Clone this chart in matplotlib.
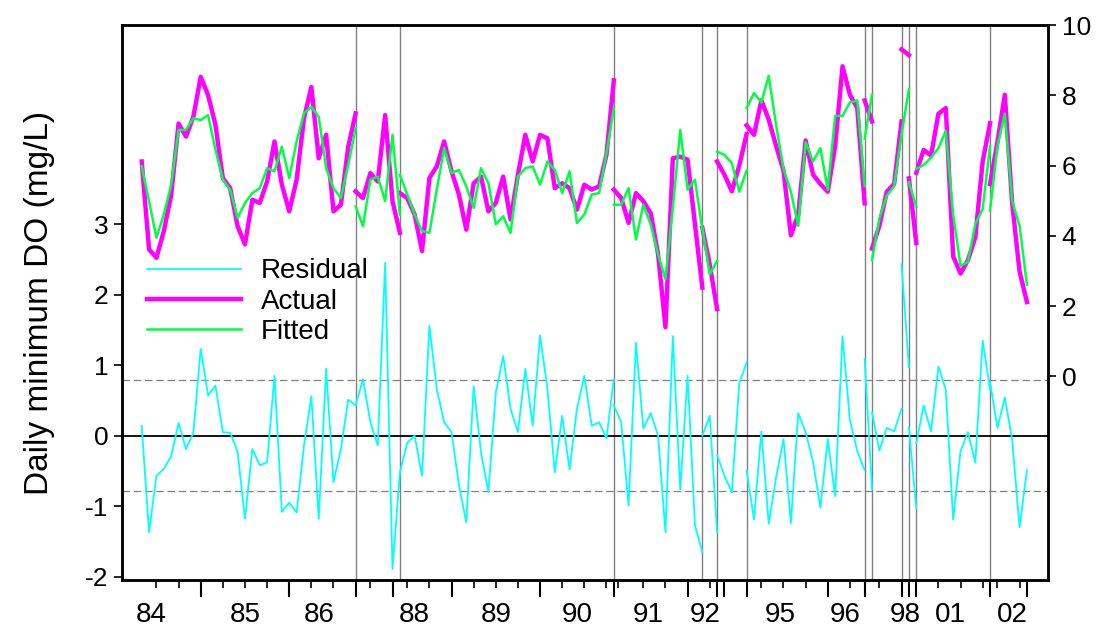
import numpy as np
import matplotlib.pyplot as plt

# monthly observations, broken into segments (start index, actual, fitted)
seg_starts = [0, 29, 35, 64, 76, 78, 82, 98, 99, 103, 104, 105, 115]

actual_segs = [
    [6.12, 3.62, 3.38, 4.14, 5.17, 7.2, 6.83, 7.39, 8.53, 8.01, 7.16, 5.65, 5.36, 4.28, 3.76,
     5.03, 4.94, 5.55, 6.69, 5.46, 4.7, 5.6, 7.35, 8.24, 6.21, 6.88, 4.7, 4.89, 6.54, 7.49],
    [5.27, 5.08, 5.79, 5.55, 7.44, 4.99, 4.09],
    [5.22, 5.08, 4.61, 3.57, 5.65, 5.98, 6.69, 5.84, 5.18, 4.18, 5.5, 5.69, 4.7, 4.94, 5.69,
     4.47, 5.74, 6.88, 6.12, 6.88, 6.78, 5.36, 5.5, 5.36, 4.75, 5.46, 5.32, 5.41, 6.31, 8.43],
    [5.32, 5.08, 4.37, 5.22, 4.99, 4.65, 3.48, 1.4, 6.21, 6.26, 6.17, 4.33, 2.53],
    [4.23, 3.19, 1.92],
    [6.12, 5.74, 5.27, 6.0, 6.9],
    [7.15, 6.88, 7.86, 7.31, 6.56, 5.86, 4.02, 4.61, 6.72, 5.75, 5.48, 5.26, 6.56, 8.83,
     8.02, 7.64, 4.93],
    [7.86, 7.26],
    [3.64, 4.29, 5.26, 5.48, 7.26],
    [9.31, 9.15],
    [5.64, 3.8],
    [5.8, 6.45, 6.29, 7.48, 7.64, 3.42, 2.93, 3.31, 3.96, 6.12, 7.21],
    [5.48, 6.67, 8.02, 4.93, 2.99, 2.12],
]

fitted_segs = [
    [5.98, 4.99, 3.95, 4.61, 5.46, 7.02, 7.02, 7.35, 7.3, 7.44, 6.45, 5.6, 5.32, 4.51, 4.94,
     5.22, 5.36, 5.93, 5.84, 6.54, 5.65, 6.69, 7.49, 7.68, 7.39, 5.93, 5.36, 5.08, 6.03, 7.06],
    [4.84, 4.28, 5.6, 5.69, 4.99, 6.88, 4.61],
    [5.74, 5.18, 4.61, 4.14, 4.09, 5.32, 6.5, 5.79, 5.88, 5.41, 4.8, 5.93, 5.5, 4.33, 4.56,
     4.09, 5.69, 5.93, 5.98, 5.46, 6.12, 5.88, 5.22, 5.84, 4.37, 4.61, 5.18, 5.22, 6.35, 7.63],
    [4.89, 4.89, 5.36, 3.9, 4.89, 4.33, 3.48, 2.77, 4.8, 7.02, 5.32, 5.6, 4.18],
    [4.23, 2.91, 3.29],
    [6.4, 6.31, 6.07, 5.26, 5.86],
    [7.64, 8.07, 7.8, 8.56, 7.15, 5.91, 5.26, 4.29, 6.67, 6.12, 6.5, 5.31, 7.42, 7.42,
     7.8, 7.86, 5.42],
    [6.77, 8.02],
    [3.31, 4.5, 5.15, 5.42, 6.88],
    [6.88, 8.18],
    [5.53, 4.83],
    [5.91, 6.02, 6.23, 6.5, 6.99, 4.61, 3.15, 3.26, 4.34, 4.77, 6.56],
    [4.72, 6.56, 7.48, 4.99, 4.29, 2.61],
]

break_idx = [29, 35, 64, 76, 78, 82, 98, 99, 103, 104, 105, 115]
major_ticks = [8, 20, 29, 34, 42, 54, 64, 74, 78, 79, 82, 93, 98, 103, 104, 105, 115, 120]
minor_ticks = [2, 5, 11, 14, 17, 23, 26, 31, 36, 39, 45, 48, 51, 57, 60, 63, 64.6, 68, 71,
               77, 84, 87, 90, 96, 100, 108, 111, 114, 116, 119]
year_labels = ['84', '85', '86', '88', '89', '90', '91', '92', '95', '96', '98', '01', '02']
year_pos = [1.3, 14, 24, 37, 48, 59, 68.7, 76.4, 86.6, 95.4, 103.5, 109.6, 118]
band = 0.79

CYAN = '#00FFFF'
MAGENTA = '#FF00FF'
GREEN = '#00FF40'


def main():
    plt.rcParams.update({'font.family': 'Liberation Sans', 'font.size': 19,
                         'axes.unicode_minus': False})
    fig = plt.figure(figsize=(11.07, 6.3), dpi=100)
    ax = fig.add_axes([0.110, 0.079, 0.837, 0.881])
    ax2 = ax.twinx()

    for b in break_idx:
        ax.axvline(b, color='#808080', lw=1.0, zorder=1)
    ax.axhline(0, color='black', lw=1.3, zorder=1)
    ax.axhline(band, color='#808080', lw=0.9, ls=(0, (6, 3)), zorder=1)
    ax.axhline(-band, color='#808080', lw=0.9, ls=(0, (6, 3)), zorder=1)

    for i, (s, a, f) in enumerate(zip(seg_starts, actual_segs, fitted_segs)):
        x = np.arange(s, s + len(a))
        res = np.array(a) - np.array(f)
        ax.plot(x, res, color=CYAN, lw=1.3, zorder=2,
                label='Residual' if i == 0 else None)
        ax2.plot(x, a, color=MAGENTA, lw=3.2, zorder=3,
                 label='Actual' if i == 0 else None)
        ax2.plot(x, f, color=GREEN, lw=1.8, zorder=4,
                 label='Fitted' if i == 0 else None)

    ax.set_xlim(-2.7, 122.9)
    ax.set_ylim(-2.05, 5.82)
    ax2.set_ylim(-5.8, 10)
    ax.set_yticks([-2, -1, 0, 1, 2, 3])
    ax2.set_yticks([0, 2, 4, 6, 8, 10])
    ax.set_ylabel('Daily minimum DO (mg/L)', fontsize=24, labelpad=22)

    ax.set_xticks(major_ticks)
    ax.set_xticklabels([])
    ax.set_xticks(minor_ticks, minor=True)
    ax.tick_params(axis='x', which='major', length=12, width=1.5, direction='out')
    ax.tick_params(axis='x', which='minor', length=6, width=1.2, direction='out')
    ax.tick_params(axis='y', length=6, width=1.2, labelsize=19)
    ax2.tick_params(axis='y', length=6, width=1.2, labelsize=19)
    for lab, p in zip(year_labels, year_pos):
        ax.text(p, -0.04, lab, transform=ax.get_xaxis_transform(),
                ha='center', va='top', fontsize=20)

    for a_ in (ax, ax2):
        for sp in a_.spines.values():
            sp.set_linewidth(1.8)

    h1, l1 = ax.get_legend_handles_labels()
    h2, l2 = ax2.get_legend_handles_labels()
    ax2.legend(h1 + h2, l1 + l2, loc='upper left', bbox_to_anchor=(0.0, 0.625),
               frameon=False, fontsize=20, handlelength=3.4, labelspacing=0.15,
               handletextpad=0.7)

    plt.savefig('out.png')


if __name__ == '__main__':
    main()
